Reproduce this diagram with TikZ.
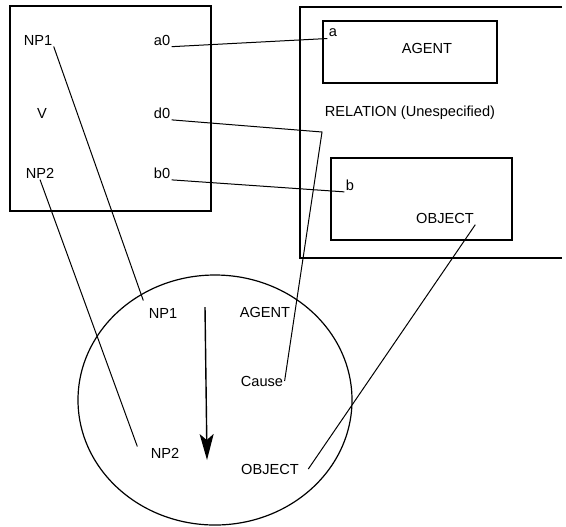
\documentclass[tikz,border=0pt]{standalone}
\usepackage{fontspec}
\setmainfont{Liberation Sans}
\usetikzlibrary{arrows.meta}

\begin{document}
\begin{tikzpicture}[x=0.5pt,y=-0.5pt,line width=0.5pt,
    lbl/.style={inner sep=0.5pt,font=\fontsize{7.3}{8.5}\selectfont}]
    \useasboundingbox (0,0) rectangle (566,526);
    \begin{scope}[line width=0.6pt]
        \draw (10,6) rectangle (211,211);
        \draw (562,7) -- (300,7) -- (300,258) -- (562,258);
        \draw (323,21) rectangle (497,83);
        \draw (331,158) rectangle (512,240);
        \draw (215,400) ellipse (137 and 125);
    \end{scope}
    \node[lbl] (np1) at (38,40) {NP1};
    \node[lbl] (v) at (42,113) {V};
    \node[lbl] (np2) at (40,173) {NP2};
    \node[lbl] (a0) at (162,40) {a0};
    \node[lbl] (d0) at (162,113) {d0};
    \node[lbl] (b0) at (162,173) {b0};
    \node[lbl] (a) at (333,33) {a};
    \node[lbl] (agent) at (427,48) {AGENT};
    \node[lbl] (rel) at (410,113) {RELATION (Unespecified)};
    \node[lbl] (b) at (350,185) {b};
    \node[lbl] (object) at (445,218) {OBJECT};
    \node[lbl] (cnp1) at (163,313) {NP1};
    \node[lbl] (cagent) at (265,312) {AGENT};
    \node[lbl] (cause) at (262,381) {Cause};
    \node[lbl] (cnp2) at (165,453) {NP2};
    \node[lbl] (cobject) at (270,469) {OBJECT};
    \coordinate (bend) at (322,132);
    \coordinate (flowtop) at (205,307);
    \coordinate (flowend) at (207,460);
    \draw (a0.south east) -- (a.south west);
    \draw (d0.south east) -- (bend) -- (cause.east);
    \draw (b0.south east) -- (b.south west);
    \draw (object.south east) -- ([xshift=4pt]cobject.east);
    \draw (np1.south east) -- ([shift={(-2pt,3pt)}]cnp1.north west);
    \draw (np2.south) -- ([xshift=-6pt]cnp2.north west);
    \draw[line width=0.7pt,-{Stealth[length=13pt,width=7pt,inset=3pt]}] (flowtop) -- (flowend);
\end{tikzpicture}
\end{document}
